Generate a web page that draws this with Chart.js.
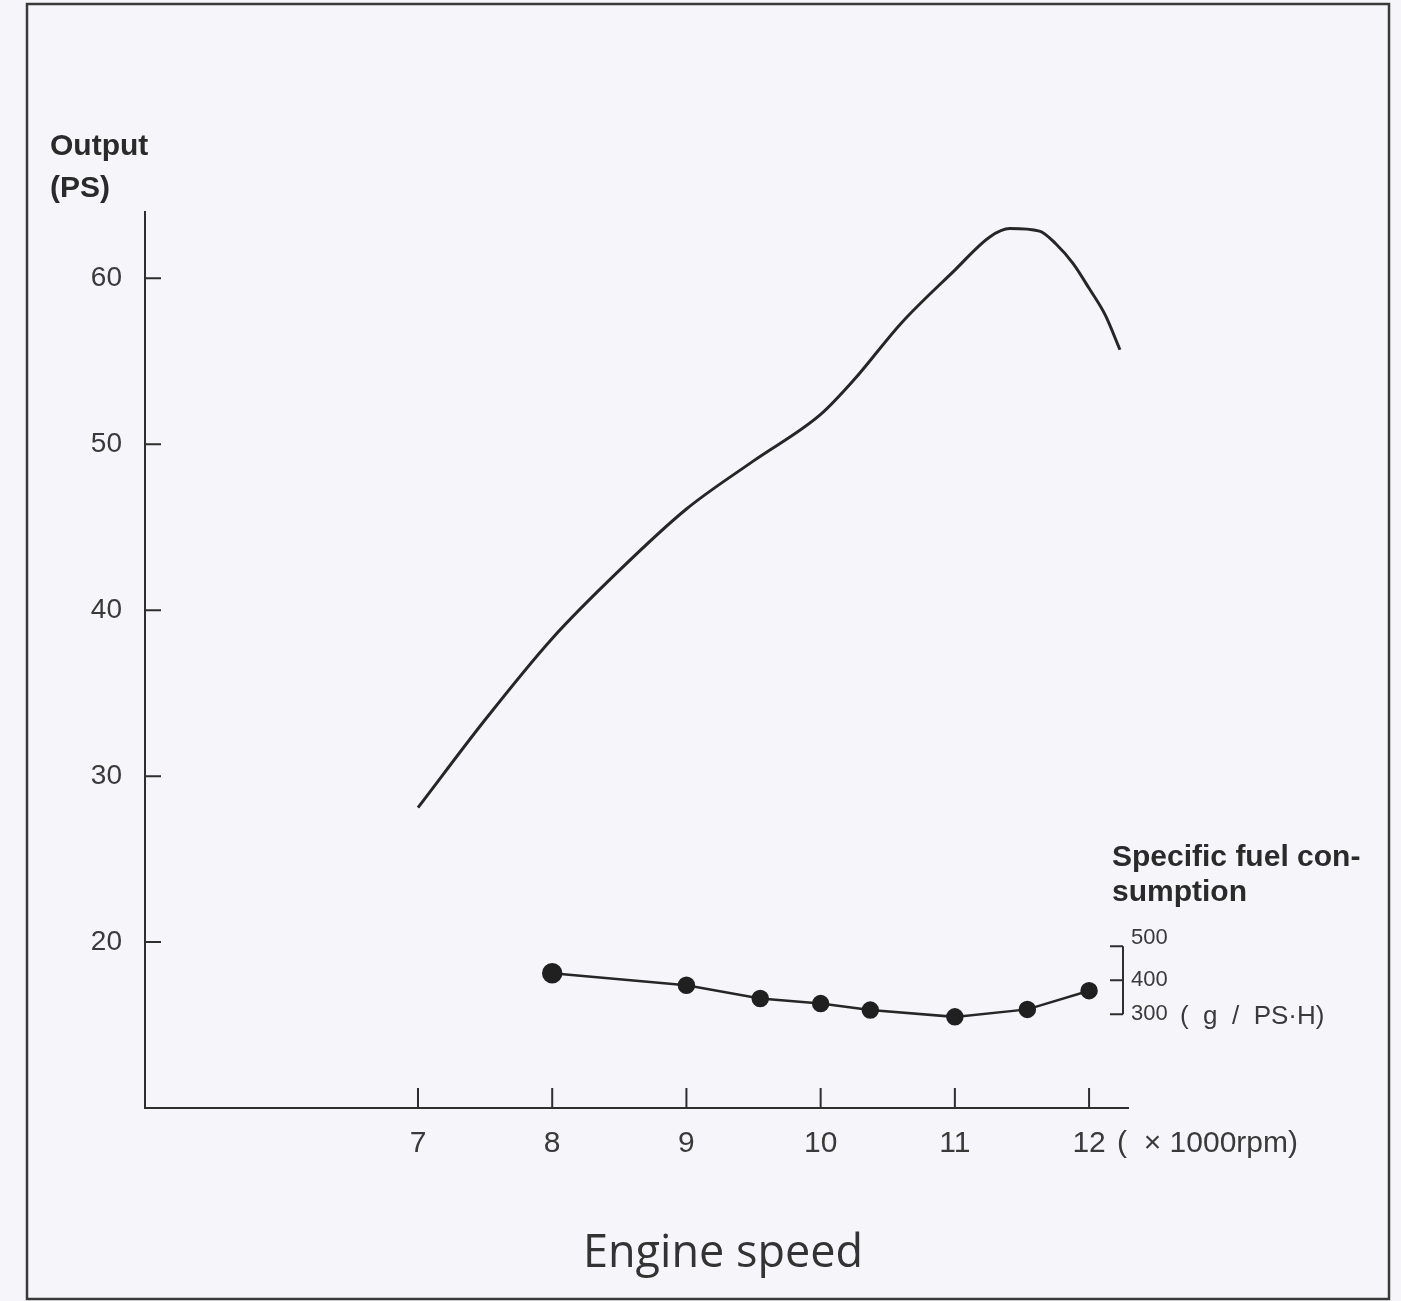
<!DOCTYPE html>
<html>
<head>
<meta charset="utf-8">
<script src="https://cdn.jsdelivr.net/npm/chart.js@4.4.0/dist/chart.umd.min.js"></script>
<style>
  html, body { margin: 0; padding: 0; background: #f6f6fa; overflow: hidden; }
  #wrap { width: 1401px; height: 1301px; position: relative; }
</style>
</head>
<body>
<div id="wrap"><canvas id="engine"></canvas></div>
<script>
// output curve (PS)
const outputRpm = [7, 7.5, 8, 8.5, 9, 9.5, 10, 10.25, 10.6, 11, 11.26, 11.41, 11.63, 11.75, 11.88, 12, 12.12, 12.23];
const outputPs = [28.1, 33.4, 38.3, 42.4, 46.1, 49.0, 51.8, 53.9, 57.3, 60.5, 62.5, 63.0, 62.85, 62.1, 60.9, 59.4, 57.8, 55.7];

// specific fuel consumption (g/PS·H)
const fuelRpm = [8, 9, 9.55, 10, 10.37, 11, 11.54, 12];
const fuelGPsH = [420, 385, 346, 331, 312, 292, 314, 369];

const rpmTicks = [7, 8, 9, 10, 11, 12];
const psTicks = [20, 30, 40, 50, 60];
const fuelTicks = [300, 400, 500];

const ink = '#2e2e2e';
const tickFont = '"Liberation Sans", Arial, sans-serif';

// extra drawing: frame, inward tick marks, short fuel axis, captions
const decor = {
  id: 'decor',
  afterDraw(chart) {
    const ctx = chart.ctx;
    const x = chart.scales.x, y = chart.scales.y, y2 = chart.scales.y2;
    const area = chart.chartArea;
    ctx.save();

    // frame
    ctx.strokeStyle = '#3a3a3a';
    ctx.lineWidth = 2.5;
    ctx.strokeRect(27, 4, 1362, 1295);

    // inward ticks
    ctx.strokeStyle = ink;
    ctx.lineWidth = 2;
    ctx.beginPath();
    psTicks.forEach(v => {
      const py = y.getPixelForValue(v);
      ctx.moveTo(area.left, py);
      ctx.lineTo(area.left + 16, py);
    });
    rpmTicks.forEach(v => {
      const px = x.getPixelForValue(v);
      ctx.moveTo(px, area.bottom);
      ctx.lineTo(px, area.bottom - 20);
    });
    ctx.stroke();

    // short fuel axis
    const ax = 1123;
    const top = y2.getPixelForValue(500), bot = y2.getPixelForValue(300);
    ctx.beginPath();
    ctx.moveTo(ax, top);
    ctx.lineTo(ax, bot);
    fuelTicks.forEach(v => {
      const py = y2.getPixelForValue(v);
      ctx.moveTo(ax - 13, py);
      ctx.lineTo(ax, py);
    });
    ctx.stroke();

    ctx.fillStyle = '#3a3a3a';
    ctx.textBaseline = 'middle';
    ctx.textAlign = 'left';
    ctx.font = '22px ' + tickFont;
    fuelTicks.forEach(v => {
      const py = y2.getPixelForValue(v) + (v === 500 ? -8 : 0);
      ctx.fillText(String(v), 1131, py);
    });
    ctx.font = '26px ' + tickFont;
    ctx.fillText('(  g  /  PS·H)', 1180, y2.getPixelForValue(300) + 3);

    // unit after last rpm tick
    ctx.font = '30px ' + tickFont;
    ctx.fillText('(  × 1000rpm)', x.getPixelForValue(12) + 28, 1144);

    // bold titles
    ctx.fillStyle = '#2a2a2a';
    ctx.font = 'bold 30px ' + tickFont;
    ctx.fillText('Output', 50, 147);
    ctx.fillText('(PS)', 50, 189);
    ctx.fillText('Specific fuel con-', 1112, 858);
    ctx.fillText('sumption', 1112, 893);

    // x title
    ctx.textAlign = 'center';
    ctx.font = '45px "Open Sans", sans-serif';
    ctx.fillStyle = '#333';
    ctx.fillText('Engine speed', 723, 1254);

    ctx.restore();
  }
};

new Chart(document.getElementById('engine'), {
  type: 'line',
  data: {
    datasets: [
      {
        label: 'Output',
        data: outputRpm.map((r, i) => ({ x: r, y: outputPs[i] })),
        yAxisID: 'y',
        borderColor: '#262626',
        borderWidth: 3,
        pointRadius: 0,
        cubicInterpolationMode: 'monotone'
      },
      {
        label: 'Specific fuel consumption',
        data: fuelRpm.map((r, i) => ({ x: r, y: fuelGPsH[i] })),
        yAxisID: 'y2',
        borderColor: '#262626',
        borderWidth: 2.5,
        pointRadius: fuelRpm.map((r, i) => (i === 0 ? 9 : 7.5)),
        pointBackgroundColor: '#202020',
        pointBorderColor: '#202020',
        tension: 0
      }
    ]
  },
  options: {
    responsive: true,
    maintainAspectRatio: false,
    animation: false,
    layout: { padding: { top: 212, left: 55, right: 273, bottom: 113 } },
    plugins: { legend: { display: false }, tooltip: { enabled: false } },
    scales: {
      x: {
        type: 'linear',
        min: 4.966,
        max: 12.29,
        afterBuildTicks: s => { s.ticks = rpmTicks.map(v => ({ value: v })); },
        afterFit: s => { s.height = 80; },
        grid: { display: false },
        border: { display: true, color: ink, width: 2 },
        ticks: {
          color: '#3a3a3a',
          padding: 10,
          font: { family: tickFont, size: 30 },
          maxRotation: 0
        }
      },
      y: {
        min: 10,
        max: 64,
        afterBuildTicks: s => { s.ticks = psTicks.map(v => ({ value: v })); },
        afterFit: s => { s.width = 90; },
        grid: { display: false },
        border: { display: true, color: ink, width: 2 },
        ticks: {
          color: '#3a3a3a',
          padding: 15,
          font: { family: tickFont, size: 28 }
        }
      },
      y2: {
        display: false,
        min: 24,
        max: 2659
      }
    }
  },
  plugins: [decor]
});
</script>
</body>
</html>
